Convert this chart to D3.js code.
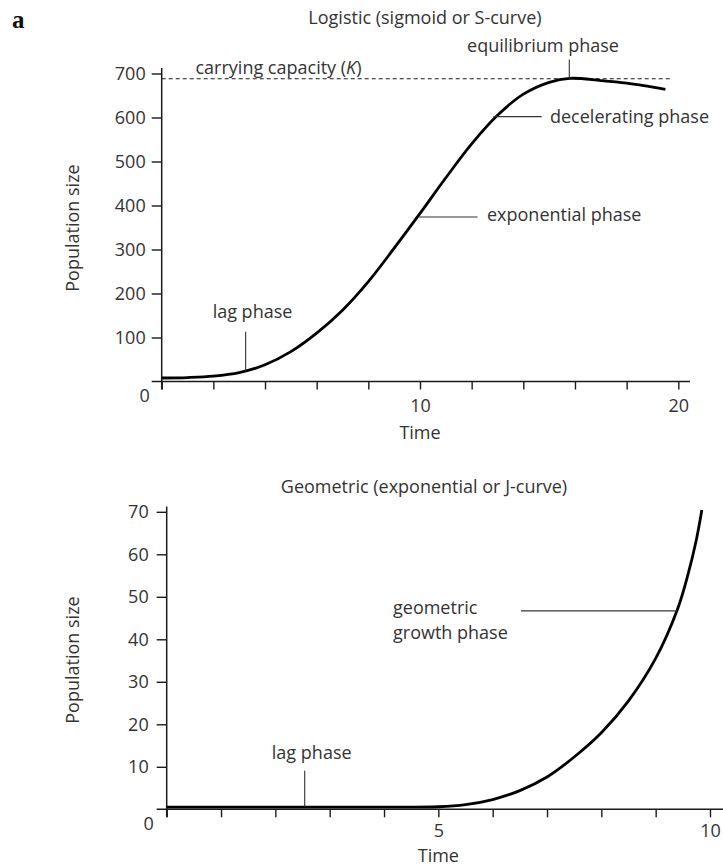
<!DOCTYPE html>
<html>
<head>
<meta charset="utf-8">
<script src="https://cdn.jsdelivr.net/npm/d3@7"></script>
<style>
  html, body { margin: 0; padding: 0; background: #fff; }
  svg { display: block; }
  text { font-family: "Open Sans", "Noto Sans", sans-serif; fill: #333; }
</style>
</head>
<body>
<svg id="chart" width="723" height="867"></svg>
<script>
// ---------- DATA ----------
const logisticTime = [0, 1, 2, 3, 4, 5, 6, 7, 8, 9, 10, 11, 12, 13, 14, 15, 15.8, 17, 18, 19.5];
const logisticPop  = [8, 9, 12, 20, 38, 68, 110, 162, 227, 303, 382, 463, 540, 605, 653, 680, 689, 684, 678, 664];
const carryingCapacity = 688;

const geometricTime = [0, 1, 2, 3, 4, 5, 5.5, 6, 6.5, 7, 7.5, 8, 8.5, 9, 9.4, 9.6, 9.75, 9.85];
const geometricPop  = [0.5, 0.5, 0.5, 0.5, 0.5, 0.6, 1.1, 2.3, 4.4, 7.6, 12.3, 18.0, 25.5, 35.5, 47, 55.5, 63.5, 70.4];

const logisticXTicks = [0, 2, 4, 6, 8, 10, 12, 14, 16, 18, 20];
const logisticXLabels = [10, 20];
const logisticYTicks = [100, 200, 300, 400, 500, 600, 700];
const geometricXTicks = [0, 1, 2, 3, 4, 5, 6, 7, 8, 9, 10];
const geometricXLabels = [5, 10];
const geometricYTicks = [10, 20, 30, 40, 50, 60, 70];

const titles = ["Logistic (sigmoid or S-curve)", "Geometric (exponential or J-curve)"];

// ---------- SETUP ----------
const svg = d3.select("#chart");
const FS = 18;

svg.append("text").attr("x", 12).attr("y", 28)
  .style("font-family", "'Liberation Serif', 'DejaVu Serif', serif")
  .style("font-weight", "bold").style("font-size", "25px").style("fill", "#111")
  .text("a");

function drawPanel(cfg) {
  const g = svg.append("g");
  const x = d3.scaleLinear().domain(cfg.xDomain).range(cfg.xRange);
  const y = d3.scaleLinear().domain(cfg.yDomain).range(cfg.yRange);

  const xAxis = d3.axisBottom(x).tickValues(cfg.xTicks).tickSize(8).tickSizeOuter(0)
    .tickPadding(cfg.xPad).tickFormat(d => cfg.xLabels.includes(d) ? d : "");
  const yAxis = d3.axisLeft(y).tickValues(cfg.yTicks).tickSize(10).tickSizeOuter(0)
    .tickPadding(cfg.yPad).tickFormat(d => d);

  const gx = g.append("g").attr("transform", `translate(0,${y(0)})`).call(xAxis);
  const gy = g.append("g").attr("transform", `translate(${x(0)},0)`).call(yAxis);
  [gx, gy].forEach(a => {
    a.select(".domain").remove();
    a.selectAll(".tick line").attr("stroke", "#1a1a1a").attr("stroke-width", 1.4);
    a.selectAll(".tick text").style("font-size", FS + "px").style("font-family", "'Open Sans', sans-serif").attr("fill", "#333");
  });

  g.append("line").attr("x1", x(0) - 10).attr("x2", cfg.xLineEnd)
    .attr("y1", y(0)).attr("y2", y(0)).attr("stroke", "#1a1a1a").attr("stroke-width", 1.5);
  g.append("line").attr("x1", x(0)).attr("x2", x(0))
    .attr("y1", cfg.yLineTop).attr("y2", y(0) + 8).attr("stroke", "#1a1a1a").attr("stroke-width", 1.5);

  g.append("text").attr("x", x(0) - cfg.zeroDx).attr("y", y(0) + cfg.zeroDy)
    .attr("text-anchor", "end").style("font-size", FS + "px").text("0");

  g.append("text").attr("x", cfg.titleX).attr("y", cfg.titleY).attr("text-anchor", "middle")
    .style("font-size", FS + "px").text(cfg.title);
  g.append("text").attr("x", x(cfg.timeLabelAt)).attr("y", y(0) + cfg.timeDy).attr("text-anchor", "middle")
    .style("font-size", FS + "px").text("Time");
  g.append("text").attr("transform", `translate(${cfg.yLabelX},${cfg.yLabelY}) rotate(-90)`)
    .attr("text-anchor", "middle").style("font-size", FS + "px").text("Population size");

  return { g, x, y };
}

function leader(p, x1, y1, x2, y2) {
  p.g.append("line").attr("x1", x1).attr("y1", y1).attr("x2", x2).attr("y2", y2)
    .attr("stroke", "#333").attr("stroke-width", 1.1);
}
function label(p, tx, ty, anchor, txt) {
  p.g.append("text").attr("x", tx).attr("y", ty).attr("text-anchor", anchor)
    .style("font-size", FS + "px").text(txt);
}

// ---------- TOP PANEL ----------
const topP = drawPanel({
  xDomain: [0, 20], xRange: [161.7, 678.3],
  yDomain: [0, 700], yRange: [381.5, 73.5],
  xTicks: logisticXTicks, xLabels: logisticXLabels, yTicks: logisticYTicks,
  xPad: 10, yPad: 6, xLineEnd: 690, yLineTop: 68,
  zeroDx: 12, zeroDy: 20,
  title: titles[0], titleX: 425, titleY: 24,
  timeLabelAt: 10, timeDy: 57, yLabelX: 79, yLabelY: 228
});

topP.g.append("line").attr("x1", topP.x(0)).attr("x2", topP.x(19.68))
  .attr("y1", topP.y(carryingCapacity)).attr("y2", topP.y(carryingCapacity))
  .attr("stroke", "#1a1a1a").attr("stroke-width", 1.1).attr("stroke-dasharray", "4,3");
const kt = topP.g.append("text").attr("x", 278.5).attr("y", 74).attr("text-anchor", "middle")
  .style("font-size", FS + "px");
kt.append("tspan").text("carrying capacity (");
kt.append("tspan").style("font-style", "italic").text("K");
kt.append("tspan").text(")");

const logLine = d3.line().x(d => topP.x(d[0])).y(d => topP.y(d[1])).curve(d3.curveCatmullRom.alpha(0.5));
topP.g.append("path").datum(logisticTime.map((t, i) => [t, logisticPop[i]]))
  .attr("d", logLine).attr("fill", "none").attr("stroke", "#000").attr("stroke-width", 2.8);

leader(topP, topP.x(15.78), topP.y(732), topP.x(15.78), topP.y(689));
label(topP, 543, 52, "middle", "equilibrium phase");
leader(topP, topP.x(12.84), topP.y(602), topP.x(14.71), topP.y(602));
label(topP, 550, 123, "start", "decelerating phase");
leader(topP, topP.x(9.95), topP.y(374), topP.x(12.23), topP.y(374));
label(topP, 487, 221, "start", "exponential phase");
leader(topP, topP.x(3.25), topP.y(24.5), topP.x(3.25), topP.y(113));
label(topP, 252.5, 318, "middle", "lag phase");

// ---------- BOTTOM PANEL ----------
const botP = drawPanel({
  xDomain: [0, 10], xRange: [166.7, 710],
  yDomain: [0, 70], yRange: [809.3, 511.8],
  xTicks: geometricXTicks, xLabels: geometricXLabels, yTicks: geometricYTicks,
  xPad: 7, yPad: 8, xLineEnd: 723, yLineTop: 506.5,
  zeroDx: 13, zeroDy: 21,
  title: titles[1], titleX: 424, titleY: 493,
  timeLabelAt: 5, timeDy: 53, yLabelX: 79, yLabelY: 660
});

const geoLine = d3.line().x(d => botP.x(d[0])).y(d => botP.y(d[1])).curve(d3.curveCatmullRom.alpha(0.5));
botP.g.append("path").datum(geometricTime.map((t, i) => [t, geometricPop[i]]))
  .attr("d", geoLine).attr("fill", "none").attr("stroke", "#000").attr("stroke-width", 2.8);

leader(botP, botP.x(2.54), botP.y(0.6), botP.x(2.54), botP.y(9.1));
label(botP, 311.7, 759, "middle", "lag phase");
leader(botP, botP.x(6.52), botP.y(46.7), botP.x(9.39), botP.y(46.7));
label(botP, 393, 614, "start", "geometric");
label(botP, 393, 639, "start", "growth phase");
</script>
</body>
</html>
